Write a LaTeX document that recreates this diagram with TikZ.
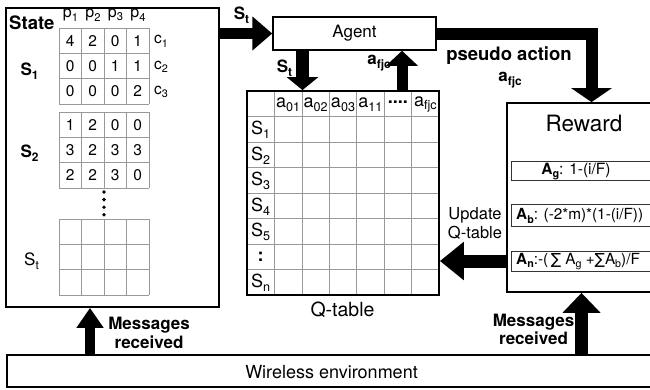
\documentclass[tikz,border=0pt]{standalone}
\usepackage{fontspec}
\usepackage{graphicx}
\setmainfont{TeX Gyre Heros}
\newfontfamily\symfont{DejaVu Sans}
\usetikzlibrary{arrows.meta}
\newcommand{\sbs}[1]{\raisebox{-0.22em}{\scalebox{0.7}{#1}}}
\newcommand{\fs}[1]{\fontsize{#1}{#1}\selectfont}
\newcommand{\drawmat}[1]{%
  \foreach \yy in {0,1,2,3} \draw[gridline] (59,#1+25.33*\yy) -- (149,#1+25.33*\yy);
  \foreach \xx in {0,1,2,3,4} \draw[gridline] (59+22.5*\xx,#1) -- (59+22.5*\xx,#1+76);
}
\begin{document}
\begin{tikzpicture}[x=1pt,y=-1pt,
  box/.style={draw=black, line width=1.8pt, inner sep=0pt, fill=white},
  ibox/.style={draw=black!80, line width=0.9pt, inner sep=0pt},
  gridline/.style={draw=black!40, line width=0.7pt},
  txt/.style={inner sep=0pt, font=\fs{17}},
  btxt/.style={inner sep=0pt, font=\fs{17}\bfseries},
  num/.style={inner sep=0pt, font=\fs{15.5}},
  blk/.style={draw=black, line join=miter},
]
\useasboundingbox (0,0) rectangle (650,389);
\clip (0,0) rectangle (650,389);
\fill[white] (0,0) rectangle (650,389);

% ---------------- State box ----------------
\node[box, minimum width=213pt, minimum height=299pt] (state) at (112.5,157.5) {};
\node[btxt, font=\fs{18.5}\bfseries, anchor=west] (statelbl) at (9,23) {State};
\node[txt, font=\fs{16}] (p1) at (70.5,15) {p\sbs{1}};
\node[txt, font=\fs{16}] (p2) at (93,15) {p\sbs{2}};
\node[txt, font=\fs{16}] (p3) at (115.5,15) {p\sbs{3}};
\node[txt, font=\fs{16}] (p4) at (138,15) {p\sbs{4}};
\drawmat{28}
\drawmat{112}
\drawmat{219}
\foreach \row [count=\r] in {{4,2,0,1},{0,0,1,1},{0,0,0,2}}
  \foreach \v [count=\c] in \row
    \node[num] (sa-\r-\c) at (47.75+22.5*\c, 15.33+25.33*\r) {\v};
\foreach \row [count=\r] in {{1,2,0,0},{3,2,3,3},{2,2,3,0}}
  \foreach \v [count=\c] in \row
    \node[num] (sb-\r-\c) at (47.75+22.5*\c, 99.33+25.33*\r) {\v};
\node[num, anchor=west] (c1) at (154,41.5) {c\sbs{1}};
\node[num, anchor=west] (c2) at (154,66.8) {c\sbs{2}};
\node[num, anchor=west] (c3) at (154,92.1) {c\sbs{3}};
\node[btxt] (s1lbl) at (29.5,71) {S\sbs{1}};
\node[btxt] (s2lbl) at (29.5,153) {S\sbs{2}};
\node[txt] (stlbl) at (31.5,261.5) {S\sbs{t}};
\foreach \d [count=\k] in {192,199.6,207.2,214.8}
  \fill[black] (104,\d) circle (1.9pt);

% ---------------- Agent ----------------
\node[box, line width=1.5pt, minimum width=163pt, minimum height=33pt] (agent) at (354.5,33.5) {};
\node[txt] (agentlbl) at (354.5,33.5) {Agent};

% ---------------- Q-table ----------------
\foreach \i in {1,...,6} \draw[gridline] (247+27.43*\i,91) -- (247+27.43*\i,295);
\foreach \j in {1,...,7} \draw[gridline] (247,91+25.5*\j) -- (439,91+25.5*\j);
\node[box, fill=none, minimum width=192pt, minimum height=204pt] (qtable) at (343,193) {};
\node[txt, font=\fs{18}] (h1) at (288.1,104.5) {a\sbs{01}};
\node[txt, font=\fs{18}] (h2) at (315.6,104.5) {a\sbs{02}};
\node[txt, font=\fs{18}] (h3) at (343,104.5) {a\sbs{03}};
\node[txt, font=\fs{18}] (h4) at (370.4,104.5) {a\sbs{11}};
\node[txt, font=\fs{18}\bfseries] (h5) at (397.9,102) {....};
\node[txt, font=\fs{18}] (h6) at (425.3,104.5) {a\sbs{fjc}};
\node[txt, font=\fs{18}] (r1) at (260.7,130) {S\sbs{1}};
\node[txt, font=\fs{18}] (r2) at (260.7,155.5) {S\sbs{2}};
\node[txt, font=\fs{18}] (r3) at (260.7,181) {S\sbs{3}};
\node[txt, font=\fs{18}] (r4) at (260.7,206.5) {S\sbs{4}};
\node[txt, font=\fs{18}] (r5) at (260.7,232) {S\sbs{5}};
\node[txt, font=\fs{18}\bfseries] (r6) at (260.7,256.75) {:};
\node[txt, font=\fs{18}] (r7) at (260.7,283) {S\sbs{n}};
\node[txt, font=\fs{19.5}] (qlbl) at (342.5,310) {Q-table};

% ---------------- Reward ----------------
\node[box, minimum width=155pt, minimum height=189pt] (reward) at (584.5,197.5) {};
\node[txt, font=\fs{22.5}] (rewlbl) at (584,123) {Reward};
\node[ibox, minimum width=159pt, minimum height=19pt] (agbox) at (590.5,171) {};
\node[ibox, minimum width=159pt, minimum height=22pt] (abbox) at (590.5,215.5) {};
\node[ibox, minimum width=159pt, minimum height=20pt] (anbox) at (590.5,261) {};
\node[txt, font=\fs{15.5}] (agtxt) at (576,171.5) {\textbf{A\sbs{g}}: 1-(i/F)};
\node[txt, font=\fs{15.3}, anchor=west] (abtxt) at (516,216) {\textbf{A\sbs{b}}: (-2*m)*(1-(i/F))};
\node[txt, font=\fs{15.3}, anchor=west] (antxt) at (516,261.5) {\textbf{A\sbs{n}}:-(\,{\symfont ∑} A\sbs{g} +{\symfont ∑}A\sbs{b})/F};

% ---------------- Wireless ----------------
\node[box, minimum width=653pt, minimum height=32pt] (wireless) at (333.5,371) {};
\node[txt, font=\fs{18}] (wlbl) at (331.5,372) {Wireless environment};

% ---------------- Arrows ----------------
\draw[blk, line width=11pt, -{Triangle[length=20pt,width=33pt]}]
  (state.east |- agent.west) -- (agent.west);
\node[btxt] (stA) at (241.5,15) {S\sbs{t}};

\draw[blk, line width=13pt, -{Triangle[length=13pt,width=31pt]}]
  ([xshift=-52pt]agent.south) -- ([xshift=-52pt]agent.south |- qtable.north);
\node[btxt] (stB) at (284.5,68) {S\sbs{t}};

\draw[blk, line width=11pt, -{Triangle[length=15pt,width=31pt]}]
  ([xshift=47.5pt]agent.south |- qtable.north) -- ([xshift=47.5pt]agent.south);
\node[btxt] (afA) at (379,63) {a\sbs{fjc}};

\draw[blk, line width=12pt, -{Triangle[length=14pt,width=40pt]}]
  (agent.east) -| ([xshift=7pt]reward.north);
\node[btxt, font=\fs{18.5}\bfseries] (pseudo) at (509,56) {pseudo action};
\node[btxt] (afB) at (510,80) {a\sbs{fjc}};

\draw[blk, line width=13pt, -{Triangle[length=24pt,width=37pt]}]
  ([yshift=-63.5pt]reward.west) -- ([yshift=-63.5pt]reward.west -| qtable.east);
\node[txt, font=\fs{16.5}, align=center] (upd) at (475,223.5) {Update\\[2pt]Q-table};

\draw[blk, line width=9.5pt, -{Triangle[length=20pt,width=26pt]}]
  ([xshift=-243.5pt]wireless.north) -- ([xshift=-243.5pt]wireless.north |- state.south);
\node[btxt, align=center] (msgL) at (149,333) {Messages\\[2pt]received};

\draw[blk, line width=13pt, -{Triangle[length=20pt,width=37pt]}]
  ([xshift=248pt]wireless.north) -- ([xshift=248pt]wireless.north |- reward.south);
\node[btxt, align=center] (msgR) at (533.5,329) {Messages\\[1pt]received};
\end{tikzpicture}
\end{document}
